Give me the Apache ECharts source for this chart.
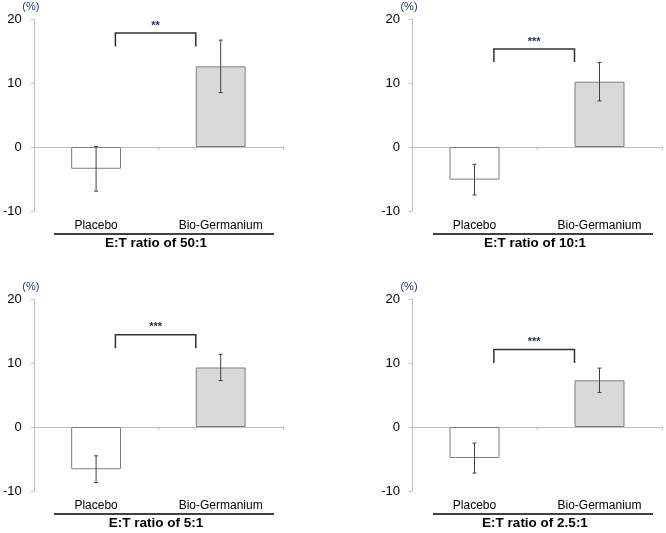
<!DOCTYPE html>
<html>
<head>
<meta charset="utf-8">
<script src="https://cdn.jsdelivr.net/npm/echarts@6/dist/echarts.min.js"></script>
<style>
  html, body { margin: 0; padding: 0; background: #fff; }
  #chart { width: 666px; height: 533px; }
</style>
</head>
<body>
<div id="chart"></div>
<script>
// data
const categories = ['Placebo', 'Bio-Germanium'];
const panelTitles = ['E:T ratio of 50:1', 'E:T ratio of 10:1', 'E:T ratio of 5:1', 'E:T ratio of 2.5:1'];
const placeboMean = [-3.4, -5.1, -6.6, -4.85];
const placeboErr = [3.5, 2.4, 2.1, 2.35];
const bioMean = [12.6, 10.2, 9.3, 7.3];
const bioErr = [4.1, 3.0, 2.05, 1.9];
const bracketLevel = [17.8, 15.3, 14.4, 12.1];
const bracketDrop = [15.7, 13.3, 12.3, 10.0];
const sigMarks = ['**', '***', '***', '***'];
const yMin = -10, yMax = 20, yStep = 10;

const FONT = '"Liberation Sans", Arial, sans-serif';
const AXIS_GRAY = '#bfbfbf';
const INK = '#404040';

// panel layout (pixels)
const panels = [
    { left: 33, top: 19 },
    { left: 412, top: 19 },
    { left: 33, top: 299 },
    { left: 412, top: 299 }
];
const GW = 250, GH = 192;

const chart = echarts.init(document.getElementById('chart'));

const grid = [], xAxis = [], yAxis = [], series = [], graphic = [];

panels.forEach((p, i) => {
    grid.push({ left: p.left, top: p.top, width: GW, height: GH });

    // axis drawn at zero
    xAxis.push({
        gridIndex: i,
        type: 'category',
        data: categories,
        axisLine: { onZero: true, lineStyle: { color: AXIS_GRAY, width: 1 } },
        axisTick: { show: true, length: 3, lineStyle: { color: AXIS_GRAY } },
        axisLabel: { show: false }
    });
    // labels at the bottom of the plot
    xAxis.push({
        gridIndex: i,
        type: 'category',
        data: categories,
        position: 'bottom',
        axisLine: { show: false, onZero: false },
        axisTick: { show: false },
        axisLabel: { margin: 9, fontSize: 12, color: '#000', fontFamily: FONT }
    });

    yAxis.push({
        gridIndex: i,
        type: 'value',
        min: yMin,
        max: yMax,
        interval: yStep,
        name: '(%)',
        nameLocation: 'end',
        nameGap: 11,
        nameTextStyle: {
            fontSize: 11,
            color: '#1f3864',
            fontFamily: FONT,
            verticalAlign: 'middle',
            padding: [0, 6, 0, 0]
        },
        axisLine: { show: true, lineStyle: { color: AXIS_GRAY, width: 1 } },
        axisTick: { show: true, length: 3, lineStyle: { color: AXIS_GRAY } },
        splitLine: { show: false },
        axisLabel: { margin: 12, fontSize: 13, color: '#000', fontFamily: FONT }
    });

    series.push({
        type: 'bar',
        xAxisIndex: i * 2,
        yAxisIndex: i,
        barWidth: '40%',
        silent: true,
        data: [
            { value: placeboMean[i], itemStyle: { color: '#ffffff' } },
            { value: bioMean[i], itemStyle: { color: '#d9d9d9' } }
        ],
        itemStyle: { borderColor: '#7f7f7f', borderWidth: 1 }
    });

    // error bars
    series.push({
        type: 'custom',
        xAxisIndex: i * 2,
        yAxisIndex: i,
        silent: true,
        data: [[0, placeboMean[i], placeboErr[i]], [1, bioMean[i], bioErr[i]]],
        encode: { x: 0, y: 1 },
        renderItem: (params, api) => {
            const x = api.value(0), m = api.value(1), e = api.value(2);
            const top = api.coord([x, m + e]);
            const bot = api.coord([x, m - e]);
            const cap = 2;
            const st = { stroke: INK, lineWidth: 1 };
            return {
                type: 'group',
                children: [
                    { type: 'line', shape: { x1: top[0], y1: top[1], x2: bot[0], y2: bot[1] }, style: st },
                    { type: 'line', shape: { x1: top[0] - cap, y1: top[1], x2: top[0] + cap, y2: top[1] }, style: st },
                    { type: 'line', shape: { x1: bot[0] - cap, y1: bot[1], x2: bot[0] + cap, y2: bot[1] }, style: st }
                ]
            };
        },
        z: 5
    });

    // significance bracket
    series.push({
        type: 'custom',
        xAxisIndex: i * 2,
        yAxisIndex: i,
        silent: true,
        data: [[0, bracketLevel[i], bracketDrop[i]]],
        encode: { x: 0, y: 1 },
        renderItem: (params, api) => {
            const lvl = api.value(1), drop = api.value(2);
            const a = api.coord([0, lvl]);
            const b = api.coord([1, lvl]);
            const band = api.size([1, 0])[0];
            const xl = a[0] + band * 0.155;
            const xr = b[0] - band * 0.2;
            const yd = api.coord([0, drop])[1];
            return {
                type: 'group',
                children: [
                    {
                        type: 'polyline',
                        shape: { points: [[xl, yd], [xl, a[1]], [xr, a[1]], [xr, yd]] },
                        style: { stroke: '#303030', lineWidth: 1.5, fill: null }
                    },
                    {
                        type: 'text',
                        style: {
                            text: sigMarks[i],
                            x: (xl + xr) / 2,
                            y: a[1] - 2,
                            align: 'center',
                            verticalAlign: 'bottom',
                            fill: '#1f2a44',
                            fontSize: 11,
                            fontWeight: 'bold',
                            fontFamily: FONT
                        }
                    }
                ]
            };
        },
        z: 5
    });

    // underline and panel title
    const yb = p.top + GH;
    graphic.push({
        type: 'line',
        shape: { x1: p.left + 21, y1: yb + 23, x2: p.left + 241, y2: yb + 23 },
        style: { stroke: '#000', lineWidth: 1.5 }
    });
    graphic.push({
        type: 'text',
        x: p.left + 123,
        y: yb + 32,
        style: {
            text: panelTitles[i],
            align: 'center',
            verticalAlign: 'middle',
            fill: '#000',
            fontSize: 13.5,
            fontWeight: 'bold',
            fontFamily: FONT
        }
    });
});

chart.setOption({
    backgroundColor: '#fff',
    animation: false,
    grid,
    xAxis,
    yAxis,
    series,
    graphic
});
</script>
</body>
</html>
